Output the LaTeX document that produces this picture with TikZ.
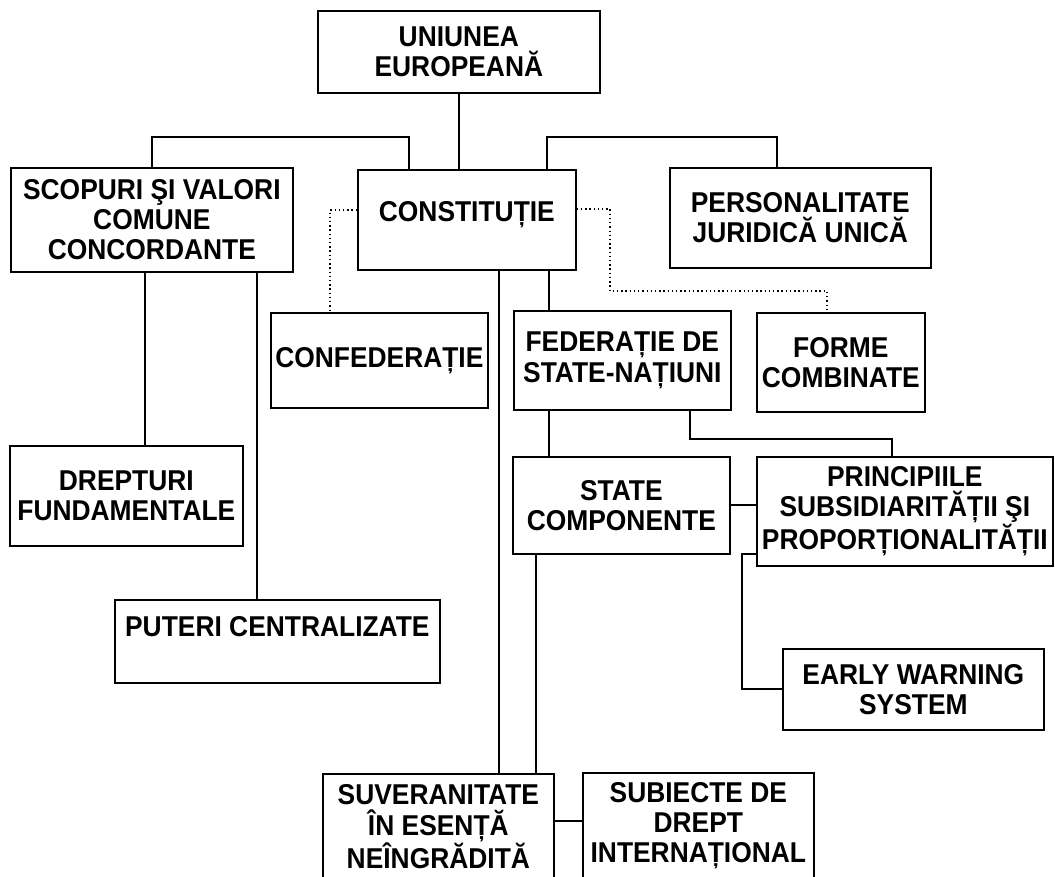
\documentclass[tikz,border=0pt]{standalone}
\usepackage{fontspec}
\setmainfont{Liberation Sans}[FakeStretch=0.92]

\begin{document}
\begin{tikzpicture}[
  font=\fontsize{20.4}{21.5}\selectfont\bfseries,
  box/.style={draw=black, line width=1.2pt, align=center, inner sep=0pt,
              anchor=north west},
  link/.style={draw=black, line width=1.2pt},
  hint/.style={draw=black, line width=1pt, dotted}]

%% lienzo fijo, las cajas de abajo se salen y se recortan
\useasboundingbox (0,0) rectangle (26.375,21.9);
\clip (0,0) rectangle (26.375,21.9);

%% ---- nivel 1 ----
\node[box, minimum width=7.05cm, minimum height=2.05cm] (uniune) at (7.925,21.65)
  {UNIUNEA\\EUROPEANĂ};

%% ---- nivel 2 ----
\node[box, minimum width=7.05cm, minimum height=2.6cm] (scopuri) at (0.25,17.725)
  {SCOPURI ŞI VALORI\\COMUNE\\CONCORDANTE};
\node[box, minimum width=5.45cm, minimum height=2.5cm] (constit) at (8.925,17.675)
  {CONSTITUȚIE\\[-0.35cm]\mbox{}};
\node[box, minimum width=6.525cm, minimum height=2.5cm] (personal) at (16.725,17.725)
  {PERSONALITATE\\JURIDICĂ UNICĂ};

%% ---- formele ----
\node[box, minimum width=5.425cm, minimum height=2.375cm] (confed) at (6.75,14.1)
  {CONFEDERAȚIE};
\node[box, minimum width=5.425cm, minimum height=2.475cm] (federatie) at (12.825,14.15)
  {FEDERAȚIE DE\\STATE-NAȚIUNI};
\node[box, minimum width=4.2cm, minimum height=2.475cm] (forme) at (18.9,14.1)
  {FORME\\COMBINATE};

%% ---- mijloc ----
\node[box, minimum width=5.825cm, minimum height=2.5cm] (drepturi) at (0.225,10.775)
  {DREPTURI\\FUNDAMENTALE};
\node[box, minimum width=5.425cm, minimum height=2.425cm] (state) at (12.8,10.5)
  {STATE\\COMPONENTE};
\node[box, minimum width=7.4cm, minimum height=2.725cm] (principii) at (18.9,10.5)
  {PRINCIPIILE\\SUBSIDIARITĂȚII ŞI\\PROPORȚIONALITĂȚII};
\node[box, minimum width=8.125cm, minimum height=2.075cm] (puteri) at (2.85,6.925)
  {PUTERI CENTRALIZATE\\\mbox{}};
\node[box, minimum width=6.525cm, minimum height=2.025cm] (early) at (19.55,5.7)
  {EARLY WARNING\\SYSTEM};

%% ---- jos ----
\node[box, minimum width=5.775cm, minimum height=2.65cm] (suv) at (8.05,2.575)
  {SUVERANITATE\\ÎN ESENȚĂ\\NEÎNGRĂDITĂ};
\node[box, minimum width=5.775cm, minimum height=2.65cm] (subiecte) at (14.55,2.6)
  {SUBIECTE DE\\DREPT\\INTERNAȚIONAL};

%% puncte de frangere
\coordinate (jL) at (10.225,18.475);
\coordinate (jR) at (13.675,18.475);
\coordinate (jP) at (19.425,18.475);
\coordinate (dL) at (8.25,16.65);
\coordinate (dR) at (15.25,16.675);
\coordinate (dF) at (20.675,14.625);
\coordinate (xS1) at (3.625,0);
\coordinate (xS2) at (6.425,0);
\coordinate (xC1) at (12.475,0);
\coordinate (xC2) at (13.725,0);
\coordinate (xF2) at (17.25,10.925);
\coordinate (xP) at (22.3,0);
\coordinate (eP) at (18.55,8.05);
\coordinate (xT) at (13.4,0);
\coordinate (yS) at (0,1.375);

%% ---- legaturi ----
\draw[link] (uniune.south) -- (uniune.south |- constit.north);
\draw[link] (scopuri.north) |- (jL) -- (jL |- constit.north);
\draw[link] (jR |- constit.north) -- (jR) -- (jP) -- (jP |- personal.north);

\draw[hint] (dL -| constit.west) -- (dL) -- (dL |- confed.north);
\draw[hint] (dR -| constit.east) -- (dR) |- (dF) -- (dF |- forme.north);

\draw[link] (xS1 |- scopuri.south) -- (xS1 |- drepturi.north);
\draw[link] (xS2 |- scopuri.south) -- (xS2 |- puteri.north);
\draw[link] (xC1 |- constit.south) -- (xC1 |- suv.north);
\draw[link] (xC2 |- constit.south) -- (xC2 |- federatie.north);
\draw[link] (xC2 |- federatie.south) -- (xC2 |- state.north);
\draw[link] (xF2 |- federatie.south) -- (xF2) -| (xP |- principii.north);
\draw[link] (state.east) -- (state.east -| principii.west);
\draw[link] (eP -| principii.west) -- (eP) |- (early.west);
\draw[link] (xT |- state.south) -- (xT |- suv.north);
\draw[link] (yS -| suv.east) -- (yS -| subiecte.west);

\end{tikzpicture}
\end{document}
